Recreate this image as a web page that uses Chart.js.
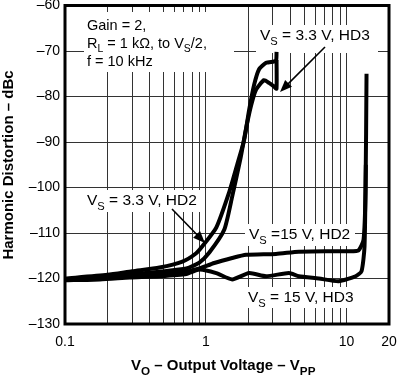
<!DOCTYPE html>
<html>
<head>
<meta charset="utf-8">
<script src="https://cdn.jsdelivr.net/npm/chart.js@4.4.1/dist/chart.umd.min.js"></script>
<style>
  html, body { margin: 0; padding: 0; background: #fff; }
  #wrap { width: 400px; height: 376px; }
</style>
</head>
<body>
<div id="wrap"><canvas id="thd" width="400" height="376"></canvas></div>
<script>
// axis ticks
const xTickValues = [0.1, 0.2, 0.3, 0.4, 0.5, 0.6, 0.7, 0.8, 0.9, 1, 2, 3, 4, 5, 6, 7, 8, 9, 10, 20];
const xTickLabels = ['0.1', '1', '10', '20'];
const yTickValues = [-130, -120, -110, -100, -90, -80, -70, -60];

// VS = 3.3 V, HD2
const vs33Hd2Volts = [0.1, 0.2, 0.3, 0.469, 0.682, 0.85, 0.945, 1.186, 1.466, 1.67, 1.871, 2.03, 2.2, 2.39, 2.68, 3.05, 3.16, 3.18];
const vs33Hd2Dbc   = [-120, -119.2, -118.4, -117.6, -116.3, -114.5, -112.9, -108.8, -101, -95, -89.6, -83, -77.5, -74, -72.6, -72.3, -72, -70.2];

// VS = 3.3 V, HD3
const vs33Hd3Volts = [0.1, 0.2, 0.3, 0.469, 0.728, 0.9, 1.059, 1.351, 1.539, 1.753, 1.933, 2.097, 2.275, 2.591, 2.811, 3.049, 3.176, 3.18];
const vs33Hd3Dbc   = [-120.2, -119.7, -119.1, -118.5, -117.8, -116.5, -114.3, -109.3, -102, -94, -87, -82, -78.5, -76.4, -77, -77.8, -78.3, -72];

// VS = 15 V, HD2
const vs15Hd2Volts = [0.1, 0.177, 0.288, 0.469, 0.728, 0.9, 1.148, 1.539, 1.933, 3.148, 4.58, 7.46, 10.33, 12.16, 13.19, 13.62, 13.85];
const vs15Hd2Dbc   = [-120.2, -119.8, -119.4, -119, -118.5, -117.8, -116.6, -115.5, -114.8, -114.6, -114.1, -114, -114, -113.8, -111.5, -101, -75];

// VS = 15 V, HD3
const vs15Hd3Volts = [0.1, 0.177, 0.288, 0.469, 0.728, 0.9, 1.186, 1.539, 2.03, 2.677, 3.89, 4.58, 6.34, 8.78, 11.58, 12.76, 13.4, 13.7];
const vs15Hd3Dbc   = [-120.4, -120.2, -119.8, -119.5, -119, -118, -118.8, -120.2, -118.8, -119.5, -118.8, -119.5, -120, -120.6, -119.5, -118.4, -113, -95];

const FONT = "'Liberation Sans', Arial, Helvetica, sans-serif";

function toPoints(xs, ys) {
    return xs.map((v, i) => ({ x: v, y: ys[i] }));
}

function curve(label, xs, ys) {
    return {
        label: label,
        data: toPoints(xs, ys),
        borderColor: '#000',
        borderWidth: 4,
        pointRadius: 0,
        tension: 0.2,
        fill: false
    };
}

// draws text pieces, some as subscripts
function richText(ctx, x, y, parts, size, bold, subScale) {
    let cx = x;
    parts.forEach(p => {
        const s = p.sub ? size * (subScale || 0.72) : size;
        ctx.font = (bold ? 'bold ' : '') + s + 'px ' + FONT;
        ctx.fillText(p.t, cx, p.sub ? y + size * 0.3 : y);
        cx += ctx.measureText(p.t).width;
    });
    return cx;
}

function arrow(ctx, x1, y1, x2, y2) {
    const a = Math.atan2(y2 - y1, x2 - x1);
    const len = 13, half = 0.38;
    ctx.strokeStyle = '#000';
    ctx.lineWidth = 1.6;
    ctx.beginPath();
    ctx.moveTo(x1, y1);
    ctx.lineTo(x2 - Math.cos(a) * len * 0.8, y2 - Math.sin(a) * len * 0.8);
    ctx.stroke();
    ctx.fillStyle = '#000';
    ctx.beginPath();
    ctx.moveTo(x2, y2);
    ctx.lineTo(x2 - len * Math.cos(a - half), y2 - len * Math.sin(a - half));
    ctx.lineTo(x2 - len * Math.cos(a + half), y2 - len * Math.sin(a + half));
    ctx.closePath();
    ctx.fill();
}

const labels = [
    { x: 260, y: 40, box: [256, 25, 122, 28], parts: [{ t: 'V' }, { t: 'S', sub: true }, { t: ' = 3.3 V, HD3' }] },
    { x: 87, y: 205, box: [83, 190, 117, 22], parts: [{ t: 'V' }, { t: 'S', sub: true }, { t: ' = 3.3 V, HD2' }] },
    { x: 249, y: 239, box: [245, 224, 110, 22], parts: [{ t: 'V' }, { t: 'S', sub: true }, { t: ' =15 V, HD2' }] },
    { x: 248, y: 302, box: [244, 287, 114, 21], parts: [{ t: 'V' }, { t: 'S', sub: true }, { t: ' = 15 V, HD3' }] }
];

const notes = {
    id: 'notes',
    beforeDatasetsDraw(chart) {
        const ctx = chart.ctx;
        ctx.save();
        ctx.fillStyle = '#fff';
        ctx.fillRect(84, 12, 150, 60);
        labels.forEach(l => ctx.fillRect(l.box[0], l.box[1], l.box[2], l.box[3]));
        ctx.restore();
    },
    afterDatasetsDraw(chart) {
        const ctx = chart.ctx;
        ctx.save();
        ctx.fillStyle = '#000';
        ctx.textBaseline = 'alphabetic';
        ctx.textAlign = 'left';
        richText(ctx, 87, 30, [{ t: 'Gain = 2,' }], 14.5, false);
        richText(ctx, 87, 47.5, [{ t: 'R' }, { t: 'L', sub: true }, { t: ' = 1 k\u03A9, to V' }, { t: 'S', sub: true }, { t: '/2,' }], 14.5, false);
        richText(ctx, 87, 65.5, [{ t: 'f = 10 kHz' }], 14.5, false);
        labels.forEach(l => richText(ctx, l.x, l.y, l.parts, 15.5, false));
        arrow(ctx, 325, 47, 280, 92);
        arrow(ctx, 172, 209, 205, 243);

        // frame round the plot
        const a = chart.chartArea;
        ctx.strokeStyle = '#000';
        ctx.lineWidth = 3;
        ctx.strokeRect(a.left, a.top, a.right - a.left, a.bottom - a.top);

        // axis titles
        ctx.fillStyle = '#000';
        richText(ctx, 131, 370, [{ t: 'V' }, { t: 'O', sub: true }, { t: ' \u2013 Output Voltage \u2013 V' }, { t: 'PP', sub: true }], 15, true, 0.78);
        ctx.translate(13, 165);
        ctx.rotate(-Math.PI / 2);
        ctx.textAlign = 'center';
        ctx.font = 'bold 15px ' + FONT;
        ctx.fillText('Harmonic Distortion \u2013 dBc', 0, 0);
        ctx.restore();
    }
};

new Chart(document.getElementById('thd').getContext('2d'), {
    type: 'line',
    data: {
        datasets: [
            curve('VS = 3.3 V, HD2', vs33Hd2Volts, vs33Hd2Dbc),
            curve('VS = 3.3 V, HD3', vs33Hd3Volts, vs33Hd3Dbc),
            curve('VS = 15 V, HD2', vs15Hd2Volts, vs15Hd2Dbc),
            curve('VS = 15 V, HD3', vs15Hd3Volts, vs15Hd3Dbc)
        ]
    },
    options: {
        responsive: false,
        devicePixelRatio: 1,
        animation: false,
        layout: { padding: { top: 5.5, right: 11, left: 0, bottom: 0 } },
        plugins: {
            legend: { display: false },
            tooltip: { enabled: false }
        },
        scales: {
            x: {
                type: 'logarithmic',
                min: 0.1,
                max: 20,
                afterBuildTicks: s => { s.ticks = xTickValues.map(v => ({ value: v })); },
                afterFit: s => { s.height = 52; s.paddingLeft = 0; s.paddingRight = 0; },
                grid: { color: '#333', lineWidth: 1, drawTicks: false },
                border: { display: false },
                ticks: {
                    autoSkip: false,
                    maxRotation: 0,
                    padding: 10,
                    color: '#000',
                    font: { family: FONT, size: 14 },
                    callback: v => {
                        const s = String(v);
                        return xTickLabels.includes(s) ? s : '';
                    }
                }
            },
            y: {
                min: -130,
                max: -60,
                afterBuildTicks: s => { s.ticks = yTickValues.map(v => ({ value: v })); },
                afterFit: s => { s.width = 65; s.paddingTop = 0; s.paddingBottom = 0; },
                grid: { color: '#333', lineWidth: 1, drawTicks: false },
                border: { display: false },
                ticks: {
                    padding: 5,
                    color: '#000',
                    font: { family: FONT, size: 14 },
                    callback: v => '\u2013' + Math.abs(v)
                }
            }
        }
    },
    plugins: [notes]
});
</script>
</body>
</html>
